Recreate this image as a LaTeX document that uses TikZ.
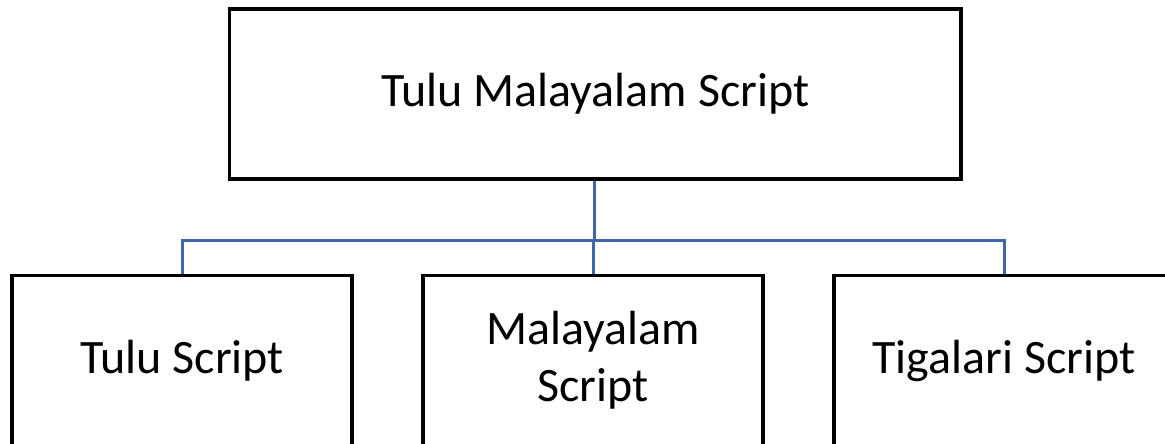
\documentclass[tikz,border=0pt]{standalone}
\usepackage{fontspec}
\setmainfont{Carlito}
\definecolor{conn}{RGB}{64,102,168}
\begin{document}
\begin{tikzpicture}[x=1pt,y=-1pt,
  box/.style={draw=black,line width=3.2pt,fill=white,inner sep=0pt,font=\fontsize{48}{57}\selectfont,align=center},
  conn/.style={draw=conn,line width=3pt}]
\clip (0,0) rectangle (1165,444);
\useasboundingbox (0,0) rectangle (1165,444);
\node[box,minimum width=731.5pt,minimum height=170pt] (top) at (595.25,94) {Tulu Malayalam Script};
\node[box,minimum width=340pt,minimum height=170pt] (tulu) at (182,360.5) {Tulu Script};
\node[box,minimum width=340pt,minimum height=170pt] (mal) at (593,360.5) {Malayalam\\Script};
\node[box,minimum width=340pt,minimum height=170pt] (tig) at (1004,360.5) {Tigalari Script};
\coordinate (bus) at (594.5,240);
\draw[conn] (top.south -| bus) -- (bus);
\draw[conn] (tulu.north) |- (bus) -| (tig.north);
\draw[conn] (bus -| mal.north) -- (mal.north);
\end{tikzpicture}
\end{document}
